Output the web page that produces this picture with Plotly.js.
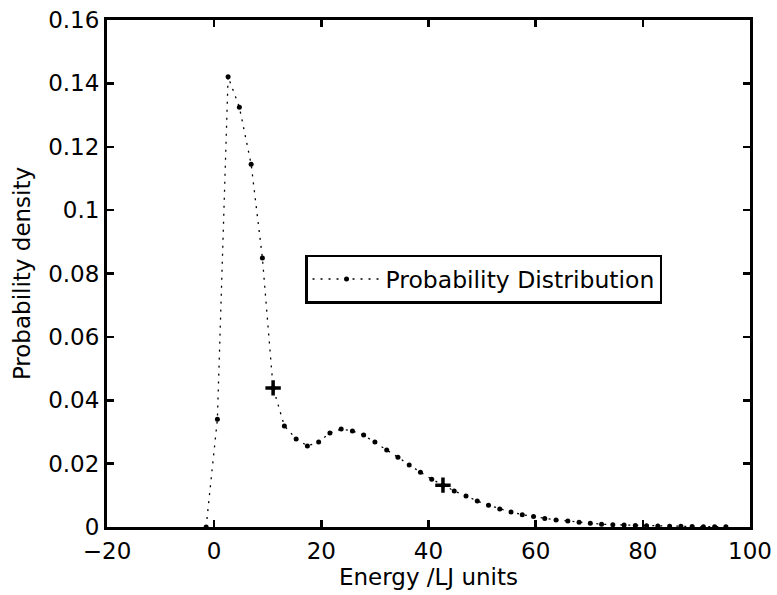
<!DOCTYPE html>
<html>
<head>
<meta charset="utf-8">
<script src="https://cdn.plot.ly/plotly-3.0.1.min.js"></script>
<style>
  html, body { margin: 0; padding: 0; background: #fff; }
  #chart { width: 777px; height: 595px; }
</style>
</head>
<body>
<div id="chart"></div>
<script>
// Energy (LJ units) of each histogram point
const energy = [-1.5, 0.6, 2.6, 4.7, 6.9, 9.0, 11.0, 13.1, 15.3, 17.4, 19.5, 21.6, 23.7, 25.8, 27.9, 30.0,
  32.2, 34.3, 36.4, 38.5, 40.6, 42.7, 44.8, 47.0, 49.1, 51.2, 53.3, 55.4, 57.5, 59.6, 61.7, 63.8,
  66.0, 68.1, 70.2, 72.3, 74.4, 76.5, 78.6, 80.7, 82.8, 85.0, 87.1, 89.2, 91.3, 93.4, 95.5];
// Probability density at each point
const density = [0, 0.034, 0.1421, 0.1325, 0.1145, 0.0849, 0.0439, 0.0319, 0.0278, 0.0256, 0.0268, 0.0297,
  0.0309, 0.0303, 0.0290, 0.0268, 0.0243, 0.0220, 0.0196, 0.0173, 0.0151, 0.0132, 0.0114, 0.0098,
  0.0082, 0.0069, 0.0057, 0.0047, 0.0039, 0.0033, 0.0027, 0.0022, 0.0019, 0.0015, 0.0012, 0.0009,
  0.0007, 0.0006, 0.0005, 0.0004, 0.0003, 0.00025, 0.0002, 0.00015, 0.0001, 0.0001, 0.00005];
// highlighted points (plus markers)
const plusEnergy = [11.0, 42.7];
const plusDensity = [0.0439, 0.0132];

const xTicks = [-20, 0, 20, 40, 60, 80, 100];
const yTicks = [0, 0.02, 0.04, 0.06, 0.08, 0.1, 0.12, 0.14, 0.16];

const FONT = 'DejaVu Sans, Liberation Sans, Arial, sans-serif';
const FS = 23;

const traces = [
  {
    x: energy, y: density, type: 'scatter', mode: 'lines+markers',
    name: 'Probability Distribution',
    line: { color: '#000', width: 1.3, dash: '2px,6px' },
    marker: { color: '#000', size: 5, symbol: 'circle' }
  },
  {
    x: plusEnergy, y: plusDensity, type: 'scatter', mode: 'markers',
    showlegend: false,
    marker: { color: '#000', size: 11, symbol: 'cross-thin', line: { color: '#000', width: 3.5 } }
  }
];

const axisCommon = {
  showline: true, linecolor: '#000', linewidth: 3, mirror: 'ticks',
  ticks: 'inside', ticklen: 7, tickwidth: 2.5, tickcolor: '#000',
  showgrid: false, zeroline: false,
  tickfont: { family: FONT, size: FS, color: '#000' }
};

const layout = {
  width: 777, height: 595,
  margin: { l: 107, r: 27, t: 20, b: 68 },
  paper_bgcolor: '#fff', plot_bgcolor: '#fff',
  font: { family: FONT, color: '#000' },
  showlegend: true,
  legend: {
    x: 0.308, y: 0.537, xanchor: 'left', yanchor: 'top',
    bordercolor: '#000', borderwidth: 2.5, bgcolor: '#fff',
    itemwidth: 68,
    font: { family: FONT, size: 23.5, color: '#000' }
  },
  xaxis: Object.assign({}, axisCommon, {
    range: [-20, 100], tickvals: xTicks, ticktext: xTicks.map(v => v < 0 ? '\u2212' + Math.abs(v) : String(v)),
    ticklabelstandoff: 1,
    title: { text: 'Energy /LJ units', font: { family: FONT, size: FS, color: '#000' }, standoff: 3 }
  }),
  yaxis: Object.assign({}, axisCommon, {
    range: [0, 0.16], tickvals: yTicks, ticktext: yTicks.map(v => String(v)),
    title: { text: 'Probability density', font: { family: FONT, size: FS, color: '#000' }, standoff: 12 }
  })
};

Plotly.newPlot('chart', traces, layout, { displayModeBar: false, staticPlot: true });
</script>
</body>
</html>
